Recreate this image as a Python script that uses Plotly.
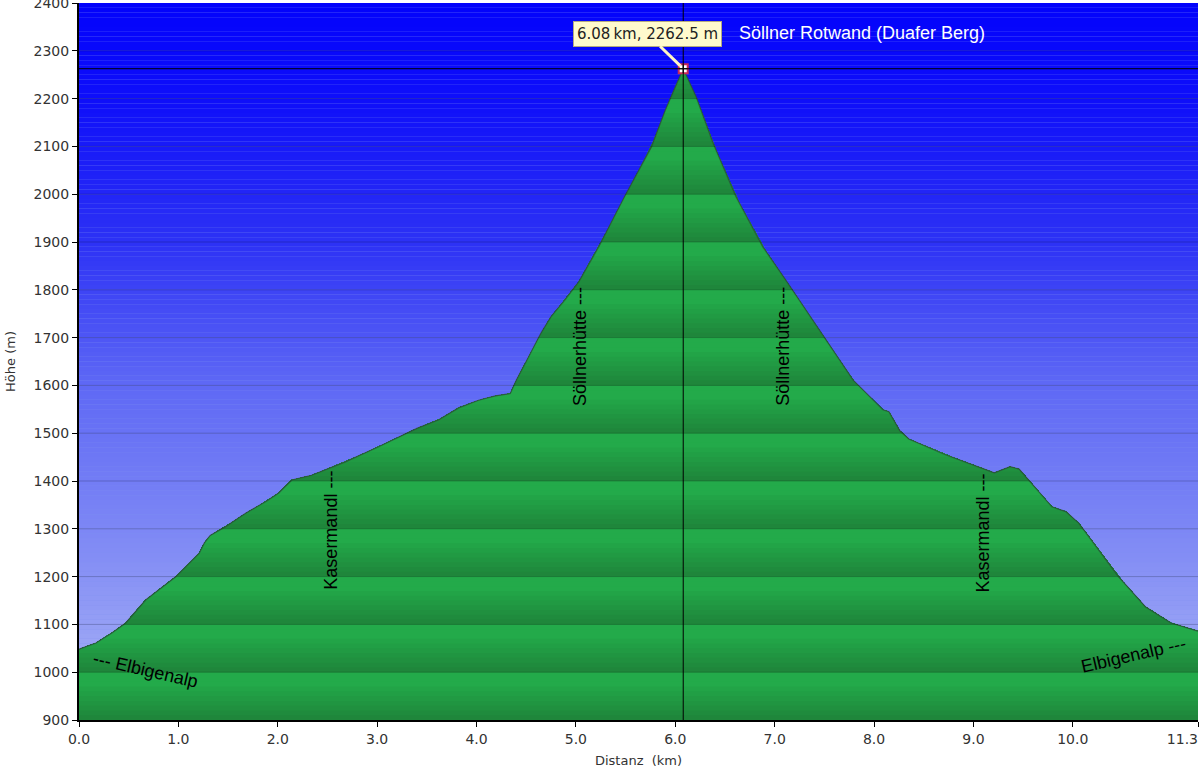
import numpy as np
import plotly.graph_objects as go

# ---------------- data ----------------
dist_km = [0.00, 0.17, 0.33, 0.47, 0.67, 0.97, 1.21, 1.26, 1.32, 1.47, 1.68, 1.88,
           2.01, 2.14, 2.34, 2.68, 3.02, 3.40, 3.62, 3.82, 4.02, 4.19, 4.34, 4.40,
           4.50, 4.65, 4.75, 4.89, 5.03, 5.23, 5.49, 5.76, 5.90, 6.03, 6.08,
           6.21, 6.38, 6.61, 6.88, 7.09, 7.29, 7.49, 7.79, 8.09, 8.15, 8.26, 8.35,
           8.72, 9.09, 9.21, 9.37, 9.46, 9.79, 9.93, 10.06, 10.46, 10.73, 10.99, 11.26]
elev_m = [1048, 1061, 1082, 1103, 1151, 1199, 1249, 1270, 1286, 1304, 1333, 1357,
          1375, 1402, 1412, 1440, 1472, 1510, 1528, 1553, 1569, 1578, 1583, 1611,
          1650, 1710, 1744, 1779, 1817, 1890, 1995, 2099, 2176, 2239, 2262.5,
          2204, 2107, 1995, 1890, 1827, 1765, 1702, 1611, 1549, 1545, 1505, 1488,
          1455, 1427, 1417, 1430, 1425, 1346, 1336, 1312, 1200, 1137, 1103, 1086]

peak_km = 6.08
peak_m = 2262.5
peak_label = "6.08\u2009km, 2262.5 m"
summit_name = "Söllner Rotwand (Duafer Berg)"

x_tickvals = [0, 1, 2, 3, 4, 5, 6, 7, 8, 9, 10, 11.26]
x_ticktext = ["0.0", "1.0", "2.0", "3.0", "4.0", "5.0", "6.0", "7.0", "8.0", "9.0", "10.0", "11.3"]
y_tickvals = list(range(900, 2401, 100))

# waypoint labels: text, km, elevation (text centre), angle
wp_text = ["--- Elbigenalp", "Kasermandl ---", "Söllnerhütte ---", "Söllnerhütte ---", "Kasermandl ---", "Elbigenalp ---"]
wp_km = [0.67, 2.54, 5.04, 7.09, 9.10, 10.61]
wp_m = [1005, 1297, 1682, 1682, 1291, 1036]
wp_angle = [13, -90, -90, -90, -90, -13]

# ---------------- styling helpers ----------------
X_MAX = 11.26
Y_MIN, Y_MAX = 900, 2400

sky_stops_y = [900, 1050, 1300, 1600, 1900, 2200, 2400]
sky_r = [165, 155, 125, 95, 45, 15, 3]
sky_g = [175, 165, 135, 105, 50, 15, 3]
sky_b = [246, 245, 245, 245, 245, 250, 252]


def sky_color(y):
    r = np.interp(y, sky_stops_y, sky_r)
    g = np.interp(y, sky_stops_y, sky_g)
    b = np.interp(y, sky_stops_y, sky_b)
    return f"rgb({int(r)},{int(g)},{int(b)})"


DARK = np.array([31, 132, 58])
BRIGHT = np.array([35, 170, 74])


def green_color(y):
    f = ((y - 900) % 100) / 100.0
    k = min(1.0, f / 0.75)
    c = DARK + (BRIGHT - DARK) * k
    return f"rgb({int(c[0])},{int(c[1])},{int(c[2])})"


STEP = 10
levels = np.arange(Y_MIN + STEP, Y_MAX, STEP)

# insert exact crossing points of the polyline with each band level
X = np.array(dist_km, dtype=float)
Y = np.array(elev_m, dtype=float)
rx, ry = [X[0]], [Y[0]]
for i in range(len(X) - 1):
    x0, y0, x1, y1 = X[i], Y[i], X[i + 1], Y[i + 1]
    lo, hi = min(y0, y1), max(y0, y1)
    ls = levels[(levels > lo) & (levels < hi)]
    if y1 < y0:
        ls = ls[::-1]
    for L in ls:
        t = (L - y0) / (y1 - y0)
        rx.append(x0 + t * (x1 - x0))
        ry.append(L)
    rx.append(x1)
    ry.append(y1)
rx = np.array(rx)
ry = np.array(ry)

fig = go.Figure()

# green banded terrain: draw from highest band down, each polygon from base to min(profile, top)
tops = [Y_MAX] + list(levels[levels <= max(elev_m) + STEP][::-1])
for top in tops:
    yy = np.minimum(ry, top)
    mid = min(top, max(elev_m)) - STEP / 2 if top == Y_MAX else top - STEP / 2
    fig.add_trace(go.Scatter(
        x=list(rx) + [rx[-1], rx[0]],
        y=list(yy) + [Y_MIN, Y_MIN],
        mode="lines", fill="toself", fillcolor=green_color(mid),
        line=dict(width=0), hoverinfo="skip", showlegend=False))

# profile outline
fig.add_trace(go.Scatter(x=dist_km, y=elev_m, mode="lines",
                         line=dict(color="rgba(45,70,60,0.75)", width=1.2),
                         hoverinfo="skip", showlegend=False))

# peak marker
fig.add_trace(go.Scatter(x=[peak_km], y=[peak_m], mode="markers",
                         marker=dict(symbol="square", size=9, color="white",
                                     line=dict(color="#C8285A", width=2)),
                         hoverinfo="skip", showlegend=False))
fig.add_trace(go.Scatter(x=[peak_km], y=[peak_m], mode="markers",
                         marker=dict(symbol="cross-thin", size=6,
                                     line=dict(color="black", width=1.2)),
                         hoverinfo="skip", showlegend=False))

shapes = []
# sky gradient background
for y0 in range(Y_MIN, Y_MAX, STEP):
    shapes.append(dict(type="rect", xref="paper", yref="y", x0=0, x1=1, y0=y0, y1=y0 + STEP,
                       fillcolor=sky_color(y0 + STEP / 2), line=dict(width=0), layer="below"))
# horizontal gridlines on top
for yv in y_tickvals[1:-1]:
    shapes.append(dict(type="line", xref="paper", yref="y", x0=0, x1=1, y0=yv, y1=yv,
                       line=dict(color="rgba(0,0,0,0.2)", width=1), layer="above"))
# crosshair at peak
shapes.append(dict(type="line", xref="x", yref="paper", x0=peak_km, x1=peak_km, y0=0, y1=1,
                   line=dict(color="black", width=1), layer="above"))
shapes.append(dict(type="line", xref="paper", yref="y", x0=0, x1=1, y0=peak_m, y1=peak_m,
                   line=dict(color="black", width=1), layer="above"))

annotations = []
for t, xk, ym, ang in zip(wp_text, wp_km, wp_m, wp_angle):
    annotations.append(dict(x=xk, y=ym, text=t, showarrow=False, textangle=ang,
                            font=dict(family="Liberation Sans, Arial", size=18, color="black"),
                            xanchor="center", yanchor="middle"))
annotations.append(dict(x=6.62, y=2337, text=summit_name, showarrow=False,
                        xanchor="left", yanchor="middle",
                        font=dict(family="Liberation Sans, Arial", size=18, color="white")))
annotations.append(dict(x=peak_km, y=peak_m, text=peak_label, showarrow=True,
                        ax=-36, ay=-35, arrowhead=0, arrowwidth=3, arrowcolor="#FFF6C4",
                        standoff=4, bgcolor="#FFFACD", bordercolor="#B4AA80", borderwidth=1,
                        borderpad=3,
                        font=dict(family="DejaVu Sans, Verdana", size=15, color="#222")))

# last tick label is right-aligned at the axis end (pad with blanks on its right)
x_ticktext_disp = x_ticktext[:-1] + [x_ticktext[-1] + "\u2007\u2007\u2007\u2008"]

fig.update_layout(
    width=1200, height=768,
    margin=dict(l=79, r=2, t=3, b=48, autoexpand=False),
    paper_bgcolor="white", plot_bgcolor="#8090f0",
    shapes=shapes, annotations=annotations,
    xaxis=dict(range=[0, X_MAX], tickvals=x_tickvals, ticktext=x_ticktext_disp,
               automargin=False, ticklabeloverflow="allow",
               ticks="outside", ticklen=5, tickcolor="black", showline=True,
               linecolor="black", linewidth=2, showgrid=False, zeroline=False,
               tickfont=dict(family="DejaVu Sans, Verdana", size=14, color="#333"),
               title=dict(text="Distanz\u00a0 (km)", standoff=10,
                          font=dict(family="DejaVu Sans, Verdana", size=13, color="#333"))),
    yaxis=dict(range=[Y_MIN, Y_MAX], tickvals=y_tickvals, automargin=False,
               ticklabeloverflow="allow",
               ticks="outside", ticklen=5, tickcolor="black", showline=True,
               linecolor="black", linewidth=2, showgrid=False, zeroline=False,
               tickfont=dict(family="DejaVu Sans, Verdana", size=14, color="#333"),
               title=dict(text="Höhe (m)", standoff=15,
                          font=dict(family="DejaVu Sans, Verdana", size=13, color="#333"))),
)

fig.write_html("out.html", config={"displayModeBar": False},
               post_script="document.body.style.margin='0';document.body.style.overflow='hidden';")
